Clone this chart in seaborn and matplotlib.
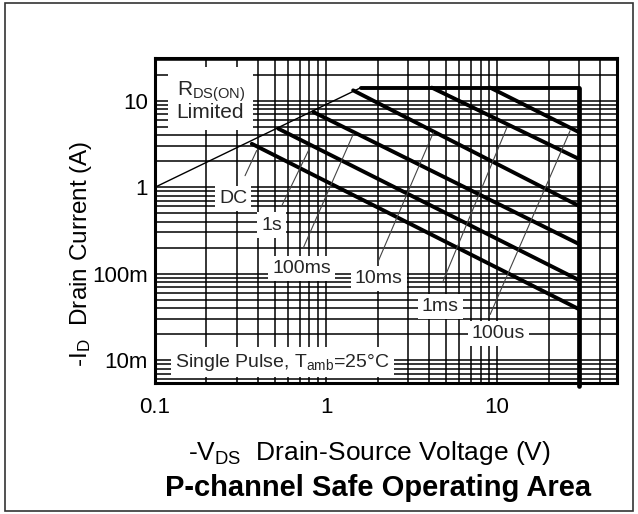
import numpy as np
import pandas as pd
import matplotlib
matplotlib.use("Agg")
import matplotlib.pyplot as plt
from matplotlib.patches import Rectangle
import seaborn as sns

# ---------------- data ----------------
rds_v = [0.1, 1.6]
rds_i = [1.0, 14.2]

limit_v = [1.6, 30.0, 30.0]
limit_i = [14.2, 14.2, 0.005]

pulse_names = ["DC", "1s", "100ms", "10ms", "1ms", "100us"]
pulse_v_start = [0.368, 0.526, 0.843, 1.44, 4.15, 9.1]
pulse_i_start = [3.18, 4.76, 7.41, 13.2, 14.2, 14.2]
pulse_v_end = [30.0, 30.0, 30.0, 30.0, 30.0, 30.0]
pulse_i_end = [0.039, 0.0845, 0.221, 0.61, 2.13, 4.35]

# leader lines from labels to curves
leader_v0 = [0.336, 0.551, 0.737, 2.02, 4.83, 9.1]
leader_i0 = [1.36, 0.61, 0.20, 0.140, 0.082, 0.0337]
leader_v1 = [0.393, 0.806, 1.445, 4.24, 11.4, 26.7]
leader_i1 = [2.66, 2.90, 4.16, 4.3, 4.9, 4.5]

x_ticks = [0.1, 1, 10]
x_tick_labels = ["0.1", "1", "10"]
y_ticks = [0.01, 0.1, 1, 10]
y_tick_labels = ["10m", "100m", "1", "10"]

# ---------------- style ----------------
sns.set_theme(style="white")
FONT = ["Liberation Sans", "DejaVu Sans"]
plt.rcParams["font.family"] = FONT
plt.rcParams["mathtext.default"] = "regular"

fig = plt.figure(figsize=(6.38, 5.14), dpi=100)
ax = fig.add_axes([155 / 638, (514 - 383.3) / 514, 461.7 / 638, 325 / 514])

ax.set_xscale("log")
ax.set_yscale("log")
ax.set_xlim(0.1, 50)
ax.set_ylim(0.0054, 31)

ax.grid(True, which="both", color="black", linewidth=1.1, zorder=0)
ax.set_axisbelow(True)

# R_DS(on) limit line
sns.lineplot(x=rds_v, y=rds_i, ax=ax, color="black", linewidth=1.0,
             estimator=None, sort=False, zorder=3)
# current / voltage limit
sns.lineplot(x=limit_v[:2], y=limit_i[:2], ax=ax, color="black", linewidth=2.8,
             estimator=None, sort=False, zorder=3)
sns.lineplot(x=limit_v[1:], y=limit_i[1:], ax=ax, color="black", linewidth=3.4,
             estimator=None, sort=False, zorder=3)
ax.lines[-1].set_clip_on(False)

# pulse curves
for k in range(len(pulse_names)):
    sns.lineplot(x=[pulse_v_start[k], pulse_v_end[k]],
                 y=[pulse_i_start[k], pulse_i_end[k]],
                 ax=ax, color="black", linewidth=2.8,
                 estimator=None, sort=False, zorder=3)
    sns.lineplot(x=[leader_v0[k], leader_v1[k]],
                 y=[leader_i0[k], leader_i1[k]],
                 ax=ax, color="#444444", linewidth=0.8,
                 estimator=None, sort=False, zorder=3)

# labels with white boxes
box = dict(facecolor="white", edgecolor="none", pad=3)
label_pos = {
    "DC": (0.1696, 0.569),
    "1s": (0.2528, 0.487),
    "100ms": (0.3177, 0.354),
    "10ms": (0.485, 0.323),
    "1ms": (0.618, 0.236),
    "100us": (0.744, 0.154),
}
for name in pulse_names:
    fx, fy = label_pos[name]
    ax.text(fx, fy, name, transform=ax.transAxes, ha="center", va="center",
            fontsize=14, bbox=box, zorder=5)

ax.text(0.047, 0.87, "R$_{DS(ON)}$\nLimited", transform=ax.transAxes,
        ha="left", va="center", fontsize=15, linespacing=0.9,
        bbox=dict(facecolor="white", edgecolor="none", pad=6), zorder=5)
ax.text(0.276, 0.0655, "Single Pulse, T$_{amb}$=25°C", transform=ax.transAxes,
        ha="center", va="center", fontsize=14, bbox=box, zorder=5)

# ticks
ax.set_xticks(x_ticks)
ax.set_xticklabels(x_tick_labels)
ax.set_yticks(y_ticks)
ax.set_yticklabels(y_tick_labels)
ax.tick_params(axis="x", which="major", direction="in", length=0,
               labelsize=16, pad=10, colors="black")
ax.tick_params(axis="y", which="major", direction="in", length=0,
               labelsize=16, pad=5, colors="black")
ax.tick_params(axis="both", which="minor", direction="in", length=0)
for lab in ax.get_xticklabels() + ax.get_yticklabels():
    lab.set_color("black")

for s in ax.spines.values():
    s.set_linewidth(2.2)
    s.set_color("black")

ax.set_xlabel("-V$_{DS}$  Drain-Source Voltage (V)", fontsize=19, color="black")
ax.xaxis.set_label_coords((369 - 155) / 461.7, -0.17)
ax.set_ylabel("-I$_{D}$  Drain Current (A)", fontsize=17.5, color="black")
ax.yaxis.set_label_coords(-0.132, 0.40)

fig.text(378 / 638, 1 - 488 / 514, "P-channel Safe Operating Area",
         ha="center", va="center", fontsize=21, fontweight="bold", color="black")

fig.patches.append(Rectangle((5 / 638, 3 / 514), 628 / 638, 508 / 514,
                             transform=fig.transFigure, fill=False,
                             edgecolor="#333333", linewidth=1.2))

fig.savefig("out.png", dpi=100)
